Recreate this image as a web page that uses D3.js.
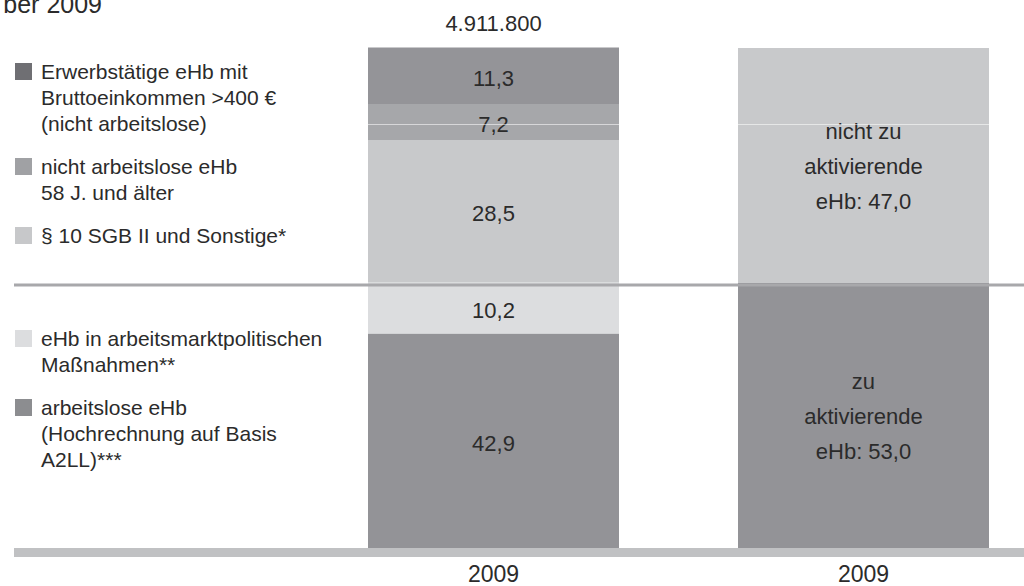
<!DOCTYPE html>
<html>
<head>
<meta charset="utf-8">
<script src="https://cdn.jsdelivr.net/npm/d3@7"></script>
<style>
  html, body { margin: 0; padding: 0; background: #fff; }
  svg { display: block; }
  text { font-family: "Liberation Sans", Arial, sans-serif; fill: #2b2b2b; }
</style>
</head>
<body>
<svg id="chart" width="1024" height="586"></svg>
<script>
// ---------- data ----------
const titleText = "ber 2009";
const barKeys = ["struktur", "aktivierung"];
const tickLabels = ["2009", "2009"];
const totalCount = 4911800;

// bar 1 (stacked bottom -> top)
const structureKeys = ["arbeitslos", "massnahmen", "sgb10", "ab58", "erwerbstaetig"];
const structureValues = [42.9, 10.2, 28.5, 7.2, 11.3];

// bar 2 (stacked bottom -> top)
const activationKeys = ["zuAktivieren", "nichtZuAktivieren"];
const activationValues = [53.0, 47.0];
const activationLabels = [["zu", "aktivierende", "eHb: {v}"], ["nicht zu", "aktivierende", "eHb: {v}"]];

// legend (top group above the divider, bottom group below)
const legendUpperKeys = ["erwerbstaetig", "ab58", "sgb10"];
const legendUpperLines = [
  ["Erwerbstätige eHb mit", "Bruttoeinkommen >400 €", "(nicht arbeitslose)"],
  ["nicht arbeitslose eHb", "58 J. und älter"],
  ["§ 10 SGB II und Sonstige*"]
];
const legendLowerKeys = ["massnahmen", "arbeitslos"];
const legendLowerLines = [
  ["eHb in arbeitsmarktpolitischen", "Maßnahmen**"],
  ["arbeitslose eHb", "(Hochrechnung auf Basis", "A2LL)***"]
];

// ---------- styles ----------
const barColor = {
  erwerbstaetig: "#949498", ab58: "#a6a7aa", sgb10: "#c8c9cb",
  massnahmen: "#dcdddf", arbeitslos: "#939397",
  zuAktivieren: "#939397", nichtZuAktivieren: "#c8c9cb"
};
const legendColor = {
  erwerbstaetig: "#6f6f73", ab58: "#a0a1a4", sgb10: "#c7c8ca",
  massnahmen: "#dcdddf", arbeitslos: "#8c8d90"
};

const de = d3.formatLocale({decimal: ",", thousands: ".", grouping: [3], currency: ["", " €"]});
const fmtVal = de.format(".1f");
const fmtInt = de.format(",");

// ---------- layout ----------
const svg = d3.select("#chart");
const x = d3.scaleBand().domain(barKeys).range([368, 989]).paddingInner(0.3216).paddingOuter(0);
const y = d3.scaleLinear().domain([0, 100]).range([548, 48]);

function stackOf(keys, values) {
  let acc = 0;
  return keys.map((k, i) => { const d = {key: k, value: values[i], y0: acc, y1: acc + values[i], i}; acc += values[i]; return d; });
}
const s1 = stackOf(structureKeys, structureValues);
const s2 = stackOf(activationKeys, activationValues);

// title (cut at page edge like the reference)
svg.append("text").attr("x", 102).attr("y", 13).attr("text-anchor", "end")
  .style("font-size", "25px").text(titleText);

// bottom band
svg.append("rect").attr("x", 14).attr("width", 1024 - 14)
  .attr("y", y(0)).attr("height", 9).attr("fill", "#c0c1c3");

// bar 1
const g1 = svg.append("g");
g1.selectAll("rect").data(s1).join("rect")
  .attr("x", x("struktur")).attr("width", x.bandwidth())
  .attr("y", d => y(d.y1)).attr("height", d => y(d.y0) - y(d.y1))
  .attr("fill", d => barColor[d.key]);
g1.selectAll("text").data(s1).join("text")
  .attr("x", x("struktur") + x.bandwidth() / 2)
  .attr("y", d => (y(d.y0) + y(d.y1)) / 2)
  .attr("dy", "0.45em").attr("text-anchor", "middle")
  .style("font-size", "22px").text(d => fmtVal(d.value));

// bar 2
const g2 = svg.append("g");
g2.selectAll("rect").data(s2).join("rect")
  .attr("x", x("aktivierung")).attr("width", x.bandwidth())
  .attr("y", d => y(d.y1)).attr("height", d => y(d.y0) - y(d.y1))
  .attr("fill", d => barColor[d.key]);
s2.forEach(d => {
  const cy = (y(d.y0) + y(d.y1)) / 2;
  const lines = activationLabels[d.i];
  const t = g2.append("text").attr("text-anchor", "middle").style("font-size", "22px");
  lines.forEach((ln, j) => {
    t.append("tspan").attr("x", x("aktivierung") + x.bandwidth() / 2)
      .attr("y", cy + (j - (lines.length - 1) / 2) * 35)
      .attr("dy", "0.4em")
      .text(ln.replace("{v}", fmtVal(d.value)));
  });
});

// faint scan line across both bars
barKeys.forEach(k => {
  svg.append("line").attr("x1", x(k)).attr("x2", x(k) + x.bandwidth())
    .attr("y1", 124.5).attr("y2", 124.5).attr("stroke", "#ffffff").attr("stroke-opacity", 0.55).attr("stroke-width", 1);
});

// divider between "nicht zu aktivierende" and "zu aktivierende"
svg.append("line").attr("x1", 14).attr("x2", 1024)
  .attr("y1", y(activationValues[0]) + 2).attr("y2", y(activationValues[0]) + 2)
  .attr("stroke", "#a8a8ab").attr("stroke-width", 3);

// total label
svg.append("text").attr("x", x("struktur") + x.bandwidth() / 2).attr("y", 31)
  .attr("text-anchor", "middle").style("font-size", "22px").text(fmtInt(totalCount));

// x axis labels
const xAxis = d3.axisBottom(x).tickSize(0).tickPadding(0).tickFormat((d, i) => tickLabels[i]);
const ax = svg.append("g").attr("transform", "translate(0,566)").call(xAxis);
ax.select(".domain").remove();
ax.selectAll("text").attr("dy", "0.7em").style("font-size", "23px").style("font-family", "'Liberation Sans', Arial, sans-serif").attr("fill", "#2b2b2b");

// legend
function drawLegend(keys, lines, startY) {
  let yy = startY;
  keys.forEach((k, i) => {
    svg.append("rect").attr("x", 15).attr("y", yy - 16).attr("width", 17).attr("height", 17)
      .attr("fill", legendColor[k]);
    const t = svg.append("text").style("font-size", "21px");
    lines[i].forEach((ln, j) => {
      t.append("tspan").attr("x", 41).attr("y", yy + j * 26).text(ln);
    });
    yy += lines[i].length * 26 + 17;
  });
}
drawLegend(legendUpperKeys, legendUpperLines, 79);
drawLegend(legendLowerKeys, legendLowerLines, 346);
</script>
</body>
</html>
